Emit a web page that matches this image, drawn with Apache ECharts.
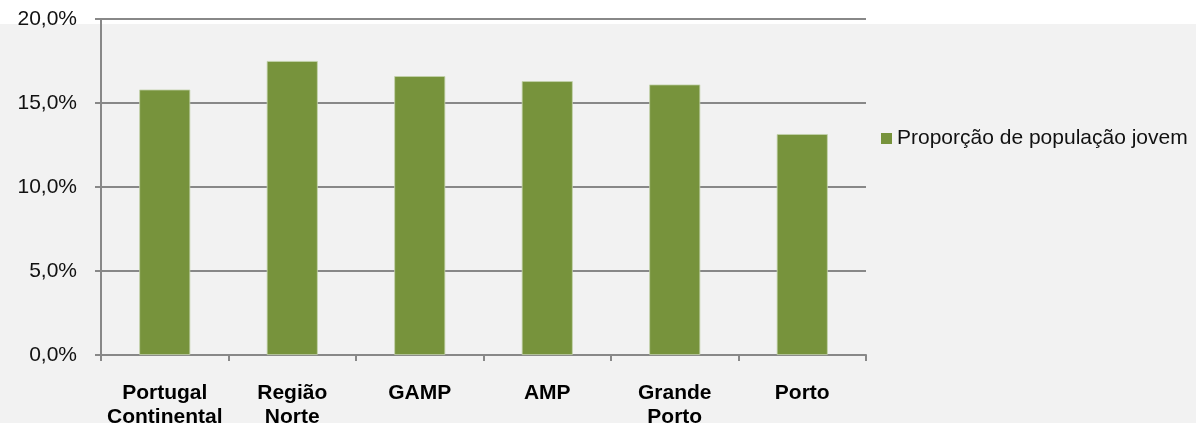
<!DOCTYPE html>
<html>
<head>
<meta charset="utf-8">
<script src="https://cdn.jsdelivr.net/npm/echarts@6/dist/echarts.min.js"></script>
<style>
html,body{margin:0;padding:0;background:#F2F2F2;}
#c{width:1196px;height:423px;}
</style>
</head>
<body>
<div id="c"></div>
<script>
const categories = ['Portugal\nContinental', 'Região\nNorte', 'GAMP', 'AMP', 'Grande\nPorto', 'Porto'];
const seriesName = 'Proporção de população jovem';
const values = [15.8, 17.5, 16.6, 16.3, 16.1, 13.15];
const yTicks = [0, 5, 10, 15, 20];

const chart = echarts.init(document.getElementById('c'), null, {renderer: 'canvas'});
const axisColor = '#888888';
chart.setOption({
  backgroundColor: '#F2F2F2',
  animation: false,
  graphic: [{
    type: 'rect', z: -10, silent: true,
    shape: {x: 0, y: 0, width: 1196, height: 24},
    style: {fill: '#ffffff'}
  }],
  grid: {left: 101, right: 330, top: 19, bottom: 68, containLabel: false, outerBoundsMode: 'none'},
  legend: {
    data: [seriesName],
    left: 881, top: 128, padding: 0,
    itemWidth: 11, itemHeight: 11, itemGap: 5,
    icon: 'rect',
    itemStyle: {borderWidth: 0},
    textStyle: {fontFamily: 'Liberation Sans, Arial', fontSize: 21, color: '#111111', padding: [0,0,0,0]}
  },
  xAxis: {
    type: 'category',
    data: categories,
    axisLine: {lineStyle: {color: axisColor, width: 2}},
    axisTick: {show: true, length: 6, lineStyle: {color: axisColor, width: 2}},
    axisLabel: {
      interval: 0, margin: 26,
      fontFamily: 'Liberation Sans, Arial', fontWeight: 'bold', fontSize: 21,
      lineHeight: 24, color: '#000000'
    }
  },
  yAxis: {
    type: 'value', min: yTicks[0], max: yTicks[yTicks.length - 1], interval: 5,
    axisLine: {show: true, lineStyle: {color: axisColor, width: 2}},
    axisTick: {show: true, length: 6, lineStyle: {color: axisColor, width: 2}},
    splitLine: {show: true, lineStyle: {color: axisColor, width: 2}},
    axisLabel: {
      margin: 24,
      fontFamily: 'Liberation Sans, Arial', fontSize: 21, color: '#111111',
      formatter: v => v.toFixed(1).replace('.', ',') + '%'
    }
  },
  series: [{
    name: seriesName,
    type: 'bar',
    data: values,
    barWidth: 51,
    itemStyle: {color: '#77933C', borderColor: '#c4d3ad', borderWidth: 0.8}
  }]
});
</script>
</body>
</html>
